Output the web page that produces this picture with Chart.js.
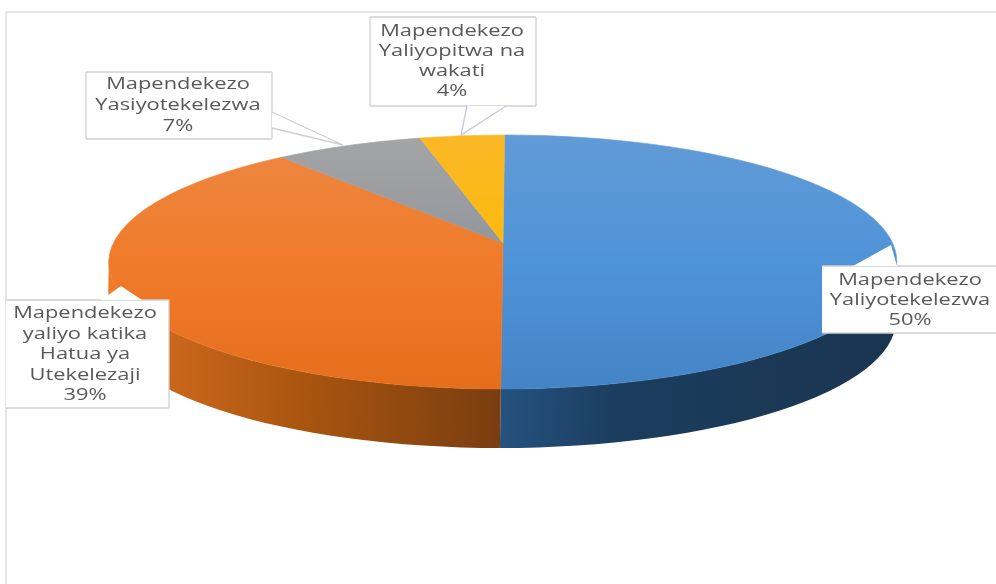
<!DOCTYPE html>
<html>
<head>
<meta charset="utf-8">
<style>
html,body{margin:0;padding:0;background:#fff;overflow:hidden}
canvas{display:block;filter:blur(0.7px)}
</style>
<script src="https://cdn.jsdelivr.net/npm/chart.js@4"></script>
</head>
<body>
<canvas id="c" width="996" height="584"></canvas>
<script>
const categories = ["Mapendekezo Yaliyotekelezwa", "Mapendekezo yaliyo katika Hatua ya Utekelezaji", "Mapendekezo Yasiyotekelezwa", "Mapendekezo Yaliyopitwa na wakati"];
const seriesValues = [50, 39, 7, 4];
const valueLabels = ["50%", "39%", "7%", "4%"];
const labelLines = [
  ["Mapendekezo", "Yaliyotekelezwa"],
  ["Mapendekezo", "yaliyo katika", "Hatua ya", "Utekelezaji"],
  ["Mapendekezo", "Yasiyotekelezwa"],
  ["Mapendekezo", "Yaliyopitwa na", "wakati"]
];
const topColors = [
  ["#619bd6", "#4f93d8", "#4484c6"],
  ["#ed8844", "#f07b2a", "#e56e1d"],
  ["#a5a5a5", "#8f949c", "#8c929a"],
  ["#fbb826", "#fbba0c", "#f6b500"]
];
const blueSide = ["#1a3550", "#1b3d5e", "#25527f"];
const orangeSide = ["#7a3d10", "#a9550f", "#cb671d", "#ef7a28"];

/* view of the disc: a tilted circle seen in perspective */
const view = { ex: 503, ey: 262, rx: 394, ry: 127, ax: 503, ay: 243, A: 389.6, B: 124.1, k: 0.1495, depth: 59, shear: -0.015 };

function project(theta) {
  const u = Math.cos(theta), v = -Math.sin(theta), w = 1 + view.k * v;
  return { x: view.ax + view.A * u / w, y: view.ay - view.B * v / w };
}
function ellipseParam(theta) {
  const p = project(theta);
  return Math.atan2((p.y - view.ey) / view.ry, (p.x - view.ex) / view.rx);
}
function applyShear(ctx) {
  ctx.transform(1, 0, view.shear, 1, -view.shear * view.ay, 0);
}

Chart.ArcElement.prototype.draw = function (ctx) {
  const o = this.getProps(['startAngle', 'endAngle']);
  let t1 = ellipseParam(o.startAngle), t2 = ellipseParam(o.endAngle);
  while (t2 <= t1) t2 += Math.PI * 2;
  ctx.save();
  applyShear(ctx);
  ctx.beginPath();
  ctx.moveTo(view.ax, view.ay);
  ctx.ellipse(view.ex, view.ey, view.rx, view.ry, 0, t1, t2);
  ctx.closePath();
  ctx.fillStyle = this.options.backgroundColor;
  ctx.strokeStyle = this.options.backgroundColor;
  ctx.lineWidth = 0.6;
  ctx.fill();
  ctx.stroke();
  ctx.restore();
};

const canvas = document.getElementById('c');
const g = canvas.getContext('2d');
const topFills = topColors.map(c => {
  const gr = g.createLinearGradient(0, 135, 0, 389);
  gr.addColorStop(0, c[0]); gr.addColorStop(0.5, c[1]); gr.addColorStop(1, c[2]);
  return gr;
});

const sidePlugin = {
  id: 'side',
  beforeDatasetsDraw(chart) {
    const ctx = chart.ctx;
    chart.getDatasetMeta(0).data.forEach((arc, i) => {
      let t1 = ellipseParam(arc.startAngle), t2 = ellipseParam(arc.endAngle);
      while (t2 <= t1) t2 += Math.PI * 2;
      const a = Math.max(t1, 0), b = Math.min(t2, Math.PI);
      if (b <= a) return;
      const x1 = view.ex + view.rx * Math.cos(a), x2 = view.ex + view.rx * Math.cos(b);
      const gr = ctx.createLinearGradient(x1, 0, x2, 0);
      if (i === 0) {
        gr.addColorStop(0, blueSide[0]); gr.addColorStop(0.7, blueSide[1]); gr.addColorStop(1, blueSide[2]);
      } else {
        gr.addColorStop(0, orangeSide[0]); gr.addColorStop(0.5, orangeSide[1]);
        gr.addColorStop(0.85, orangeSide[2]); gr.addColorStop(0.97, orangeSide[3]); gr.addColorStop(1, orangeSide[3]);
      }
      ctx.save();
      applyShear(ctx);
      ctx.beginPath();
      ctx.ellipse(view.ex, view.ey, view.rx, view.ry, 0, a, b);
      ctx.ellipse(view.ex, view.ey + view.depth, view.rx, view.ry, 0, b, a, true);
      ctx.closePath();
      ctx.fillStyle = gr;
      ctx.fill();
      ctx.restore();
    });
  }
};

/* callout boxes for each slice, in the order of categories */
const callouts = [
  { x: 822, y: 266, w: 176, h: 67, cx: 910, first: 281, gap: 20, borders: 'tb',
    pointer: [[853, 266], [891, 245], [897, 266]], pointerLine: 'rgba(255,255,255,0)' },
  { x: 6, y: 300, w: 163, h: 108, cx: 85, first: 314, gap: 20.5, borders: 'trb',
    pointer: [[101, 300], [121, 286], [142, 300]], pointerLine: 'rgba(255,255,255,0)' },
  { x: 86, y: 72, w: 186, h: 67, cx: 178, first: 85, gap: 21, borders: 'lrtb',
    pointer: [[272, 112], [343, 145], [272, 128]], pointerLine: '#cfcfcf' },
  { x: 370, y: 17, w: 166, h: 89, cx: 452, first: 32, gap: 20, borders: 'lrtb',
    pointer: [[467, 106], [461, 135], [506, 106]], pointerLine: '#c9c4dc' }
];

const calloutPlugin = {
  id: 'callouts',
  afterDatasetsDraw(chart) {
    const ctx = chart.ctx;
    ctx.save();
    /* frame */
    ctx.strokeStyle = '#e6e6e6';
    ctx.lineWidth = 2;
    ctx.beginPath();
    ctx.moveTo(6, 584); ctx.lineTo(6, 12); ctx.lineTo(996, 12);
    ctx.stroke();

    callouts.forEach((b, i) => {
      ctx.fillStyle = '#ffffff';
      ctx.fillRect(b.x, b.y, b.w, b.h);
      /* borders */
      ctx.strokeStyle = '#cfcfcf';
      ctx.lineWidth = 1.3;
      ctx.beginPath();
      if (b.borders.includes('t')) { ctx.moveTo(b.x, b.y); ctx.lineTo(b.x + b.w, b.y); }
      if (b.borders.includes('r')) { ctx.moveTo(b.x + b.w, b.y); ctx.lineTo(b.x + b.w, b.y + b.h); }
      if (b.borders.includes('b')) { ctx.moveTo(b.x, b.y + b.h); ctx.lineTo(b.x + b.w, b.y + b.h); }
      if (b.borders.includes('l')) { ctx.moveTo(b.x, b.y); ctx.lineTo(b.x, b.y + b.h); }
      ctx.stroke();
      /* pointer */
      const p = b.pointer;
      ctx.beginPath();
      ctx.moveTo(p[0][0], p[0][1]); ctx.lineTo(p[1][0], p[1][1]); ctx.lineTo(p[2][0], p[2][1]);
      ctx.closePath();
      ctx.fillStyle = '#ffffff';
      ctx.fill();
      ctx.beginPath();
      ctx.moveTo(p[0][0], p[0][1]); ctx.lineTo(p[1][0], p[1][1]); ctx.lineTo(p[2][0], p[2][1]);
      ctx.strokeStyle = b.pointerLine;
      ctx.stroke();
      /* text */
      const lines = labelLines[i].concat(valueLabels[i]);
      ctx.fillStyle = '#595959';
      ctx.font = '15.5px "Open Sans"';
      ctx.textAlign = 'center';
      ctx.textBaseline = 'middle';
      lines.forEach((t, j) => {
        ctx.save();
        ctx.translate(b.cx, b.first + j * b.gap);
        ctx.scale(1.41, 1);
        ctx.fillText(t, 0, 0);
        ctx.restore();
      });
    });
    ctx.restore();
  }
};

new Chart(canvas, {
  type: 'pie',
  data: {
    labels: categories,
    datasets: [{ data: seriesValues, backgroundColor: topFills, borderWidth: 0 }]
  },
  options: {
    responsive: false,
    animation: false,
    devicePixelRatio: 1,
    plugins: { legend: { display: false }, tooltip: { enabled: false } }
  },
  plugins: [sidePlugin, calloutPlugin]
});
</script>
</body>
</html>
